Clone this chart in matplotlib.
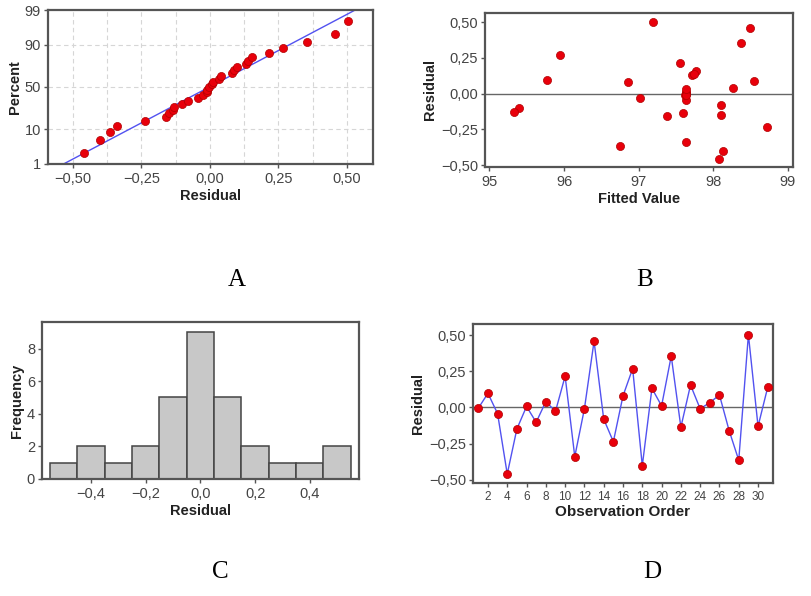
import numpy as np
import matplotlib
matplotlib.use("Agg")
import matplotlib.pyplot as plt
from matplotlib.ticker import FuncFormatter
from statistics import NormalDist

# ---------------- data ----------------
observation = list(range(1, 32))
residuals = [-0.005, 0.098, -0.043, -0.459, -0.148, 0.007, -0.102, 0.041, -0.027, 0.216,
             -0.339, -0.009, 0.457, -0.080, -0.236, 0.080, 0.268, -0.402, 0.132, 0.011,
             0.355, -0.136, 0.155, -0.009, 0.034, 0.086, -0.159, -0.364, 0.502, -0.130, 0.139]
fitted = [97.63, 95.77, 97.64, 98.08, 98.11, 97.63, 95.40, 98.26, 97.02, 97.56,
          97.63, 97.62, 98.49, 98.10, 98.72, 96.86, 95.945, 98.13, 97.71, 97.63,
          98.37, 97.60, 97.77, 97.63, 97.63, 98.55, 97.38, 96.75, 97.19, 95.33, 97.74]
percent_ticks = [1, 10, 50, 90, 99]
resid_ticks = [-0.50, -0.25, 0.00, 0.25, 0.50]
fitted_ticks = [95, 96, 97, 98, 99]
hist_xticks = [-0.4, -0.2, 0.0, 0.2, 0.4]
hist_yticks = [0, 2, 4, 6, 8]
hist_edges = [-0.55, -0.45, -0.35, -0.25, -0.15, -0.05, 0.05, 0.15, 0.25, 0.35, 0.45, 0.55]
order_ticks = list(range(2, 31, 2))
panel_letters = ["A", "B", "C", "D"]

# ---------------- style ----------------
plt.rcParams['font.family'] = ['Liberation Sans', 'DejaVu Sans']
W, H = 812, 596
fig = plt.figure(figsize=(W / 100, H / 100), dpi=100)

FRAME = '#555555'
TICKC = '#444444'
RED = '#e8000b'
REDE = '#b00000'
BLUE = '#5252f0'

def px_axes(l, t, r, b):
    return fig.add_axes([l / W, 1 - b / H, (r - l) / W, (b - t) / H])

def style(ax, xsize=10.5, ysize=10.5):
    for s in ax.spines.values():
        s.set_color(FRAME)
        s.set_linewidth(1.6)
    ax.tick_params(axis='x', colors=FRAME, labelcolor=TICKC, labelsize=xsize, length=3, width=1, pad=3)
    ax.tick_params(axis='y', colors=FRAME, labelcolor=TICKC, labelsize=ysize, length=3, width=1, pad=2)

comma2 = FuncFormatter(lambda v, p: f"{v:.2f}".replace('.', ',').replace('-', '\u2212'))
comma1 = FuncFormatter(lambda v, p: f"{v:.1f}".replace('.', ',').replace('-', '\u2212'))

# ---------------- A: normal probability plot ----------------
nd = NormalDist()
axA = px_axes(48, 10, 373, 164)
n = len(residuals)
srt = np.sort(residuals)
pp = [(i - 0.3) / (n + 0.4) for i in range(1, n + 1)]
zq = [nd.inv_cdf(p) for p in pp]
mu = float(np.mean(residuals))
sd = float(np.std(residuals, ddof=1))
zlo, zhi = nd.inv_cdf(0.01), nd.inv_cdf(0.99)
zl = np.array([zlo - 0.3, zhi + 0.3])
for g in np.arange(-0.5, 0.51, 0.125):
    axA.axvline(g, color='#d6d6d6', lw=0.8, ls=(0, (4, 3)), zorder=0)
for p in [10, 50, 90]:
    axA.axhline(nd.inv_cdf(p / 100), color='#d6d6d6', lw=0.8, ls=(0, (4, 3)), zorder=0)
axA.plot(mu + sd * zl, zl, color=BLUE, lw=1.0, zorder=2)
axA.scatter(srt, zq, s=34, color=RED, edgecolors=REDE, linewidths=0.5, zorder=3)
axA.set_xlim(-0.591, 0.595)
axA.set_ylim(zlo, zhi)
axA.set_yticks([nd.inv_cdf(p / 100) for p in percent_ticks])
axA.set_yticklabels([str(p) for p in percent_ticks])
axA.set_xticks(resid_ticks)
axA.xaxis.set_major_formatter(comma2)
style(axA)
axA.set_xlabel('Residual', fontsize=10.5, fontweight='bold', color='#222222', labelpad=2)
axA.set_ylabel('Percent', fontsize=10.5, fontweight='bold', color='#222222', labelpad=2)

# ---------------- B: residual vs fitted ----------------
axB = px_axes(485, 13, 793, 167)
axB.axhline(0, color='#666666', lw=1.0, zorder=1)
axB.scatter(fitted, residuals, s=34, color=RED, edgecolors=REDE, linewidths=0.5, zorder=3)
axB.set_xlim(94.94, 99.07)
axB.set_ylim(-0.512, 0.563)
axB.set_xticks(fitted_ticks)
axB.set_yticks(resid_ticks)
axB.yaxis.set_major_formatter(comma2)
style(axB)
axB.set_xlabel('Fitted Value', fontsize=10.5, fontweight='bold', color='#222222', labelpad=2)
axB.set_ylabel('Residual', fontsize=10.5, fontweight='bold', color='#222222', labelpad=3)

# ---------------- C: histogram ----------------
axC = px_axes(42, 322, 359, 479)
axC.hist(residuals, bins=hist_edges, color='#c8c8c8', edgecolor='#444444', linewidth=1.1)
axC.set_xlim(-0.579, 0.58)
axC.set_ylim(0, 9.63)
axC.set_xticks(hist_xticks)
axC.set_yticks(hist_yticks)
axC.xaxis.set_major_formatter(comma1)
style(axC)
axC.set_xlabel('Residual', fontsize=10.5, fontweight='bold', color='#222222', labelpad=2)
axC.set_ylabel('Frequency', fontsize=10.5, fontweight='bold', color='#222222', labelpad=2)

# ---------------- D: residual vs order ----------------
axD = px_axes(473, 324, 773, 483)
axD.axhline(0, color='#666666', lw=1.0, zorder=1)
axD.plot(observation, residuals, color=BLUE, lw=1.0, zorder=2)
axD.scatter(observation, residuals, s=34, color=RED, edgecolors=REDE, linewidths=0.5, zorder=3)
axD.set_xlim(0.45, 31.55)
axD.set_ylim(-0.521, 0.576)
axD.set_xticks(order_ticks)
axD.set_yticks(resid_ticks)
axD.yaxis.set_major_formatter(comma2)
style(axD, xsize=8.5)
axD.set_xlabel('Observation Order', fontsize=11, fontweight='bold', color='#222222', labelpad=1)
axD.set_ylabel('Residual', fontsize=10.5, fontweight='bold', color='#222222', labelpad=3)

# ---------------- panel letters ----------------
letter_pos = [(237, 280), (645, 280), (220, 572), (652, 572)]
for lab, (x, y) in zip(panel_letters, letter_pos):
    fig.text(x / W, 1 - y / H, lab, ha='center', va='center',
             fontsize=18, family=['Liberation Serif', 'DejaVu Serif'])

fig.savefig('out.png', dpi=100)
